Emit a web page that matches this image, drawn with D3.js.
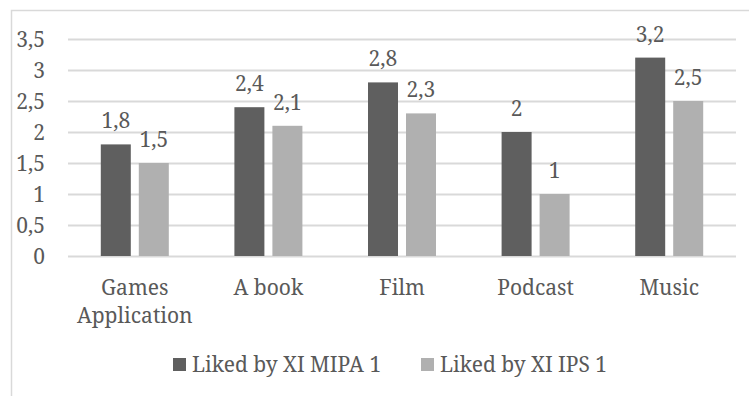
<!DOCTYPE html>
<html>
<head>
<meta charset="utf-8">
<script src="https://cdn.jsdelivr.net/npm/d3@7"></script>
<style>
  html, body { margin: 0; padding: 0; background: #fff; }
</style>
</head>
<body>
<svg id="chart" width="749" height="396"></svg>
<script>
const categories = [["Games", "Application"], ["A book"], ["Film"], ["Podcast"], ["Music"]];
const seriesNames = ["Liked by XI MIPA 1", "Liked by XI IPS 1"];
const mipaValues = [1.8, 2.4, 2.8, 2, 3.2];
const ipsValues = [1.5, 2.1, 2.3, 1, 2.5];
const yTicks = [0, 0.5, 1, 1.5, 2, 2.5, 3, 3.5];
const colors = ["#5f5f5f", "#b0b0b0"];

const fmt = v => String(v).replace(".", ",");
const fontSize = 21;
const fontFamily = '"Noto Serif", "Liberation Serif", serif';
const textColor = "#595959";

const svg = d3.select("#chart")
  .attr("font-family", fontFamily);

// outer chart frame
svg.append("rect")
  .attr("x", 11.5).attr("y", 10.5)
  .attr("width", 800).attr("height", 500)
  .attr("fill", "none").attr("stroke", "#d9d9d9").attr("stroke-width", 1.5);

const plotLeft = 68, plotRight = 736, plotTop = 39, plotBottom = 256;
const catKeys = categories.map(c => c.join(" "));

const y = d3.scaleLinear().domain([0, 3.5]).range([plotBottom, plotTop]);
const x = d3.scaleBand().domain(catKeys).range([plotLeft, plotRight])
  .paddingInner(0.491).paddingOuter(0.491 / 2);
const xs = d3.scaleBand().domain(seriesNames).range([0, x.bandwidth()])
  .paddingInner(8 / 38).paddingOuter(0);

const styleText = sel => sel
  .attr("font-family", fontFamily)
  .attr("font-size", fontSize)
  .attr("fill", textColor);

// gridlines and tick labels
const yAxis = svg.append("g")
  .attr("transform", `translate(${plotLeft},0)`)
  .call(d3.axisLeft(y).tickValues(yTicks).tickSize(-(plotRight - plotLeft)).tickPadding(23).tickFormat(fmt));
yAxis.attr("font-family", fontFamily).attr("font-size", fontSize);
yAxis.select(".domain").remove();
yAxis.selectAll(".tick line").attr("stroke", "#d9d9d9").attr("stroke-width", 2);
yAxis.selectAll(".tick text").call(styleText).attr("dy", "0.36em");

const rows = categories.map((c, i) => ({ key: catKeys[i], values: [mipaValues[i], ipsValues[i]] }));

const groups = svg.append("g").selectAll("g")
  .data(rows).join("g")
  .attr("transform", d => `translate(${x(d.key)},0)`);

groups.selectAll("rect")
  .data(d => d.values.map((v, j) => ({ s: seriesNames[j], v, j })))
  .join("rect")
  .attr("x", d => xs(d.s))
  .attr("y", d => y(d.v))
  .attr("width", xs.bandwidth())
  .attr("height", d => y(0) - y(d.v))
  .attr("fill", d => colors[d.j]);

groups.selectAll("text.val")
  .data(d => d.values.map((v, j) => ({ s: seriesNames[j], v, j })))
  .join("text")
  .attr("class", "val")
  .attr("x", d => xs(d.s) + xs.bandwidth() / 2)
  .attr("y", d => y(d.v) - 16)
  .attr("text-anchor", "middle")
  .call(styleText)
  .text(d => fmt(d.v));

// category labels
const catLabels = svg.append("g").selectAll("text")
  .data(categories.map((c, i) => ({ lines: c, key: catKeys[i] })))
  .join("text")
  .attr("x", d => x(d.key) + x.bandwidth() / 2)
  .attr("y", 295)
  .attr("text-anchor", "middle")
  .call(styleText);
catLabels.selectAll("tspan")
  .data(d => d.lines.map(l => ({ l, cx: x(d.key) + x.bandwidth() / 2 })))
  .join("tspan")
  .attr("x", d => d.cx)
  .attr("dy", (d, i) => i === 0 ? 0 : 28)
  .text(d => d.l);

// legend
const legendPos = [173, 421];
const legend = svg.append("g").selectAll("g")
  .data(seriesNames).join("g")
  .attr("transform", (d, i) => `translate(${legendPos[i]},0)`);
legend.append("rect")
  .attr("x", 0).attr("y", 358).attr("width", 13).attr("height", 13)
  .attr("fill", (d, i) => colors[i]);
legend.append("text")
  .attr("x", 19).attr("y", 372)
  .call(styleText)
  .text(d => d);
</script>
</body>
</html>
